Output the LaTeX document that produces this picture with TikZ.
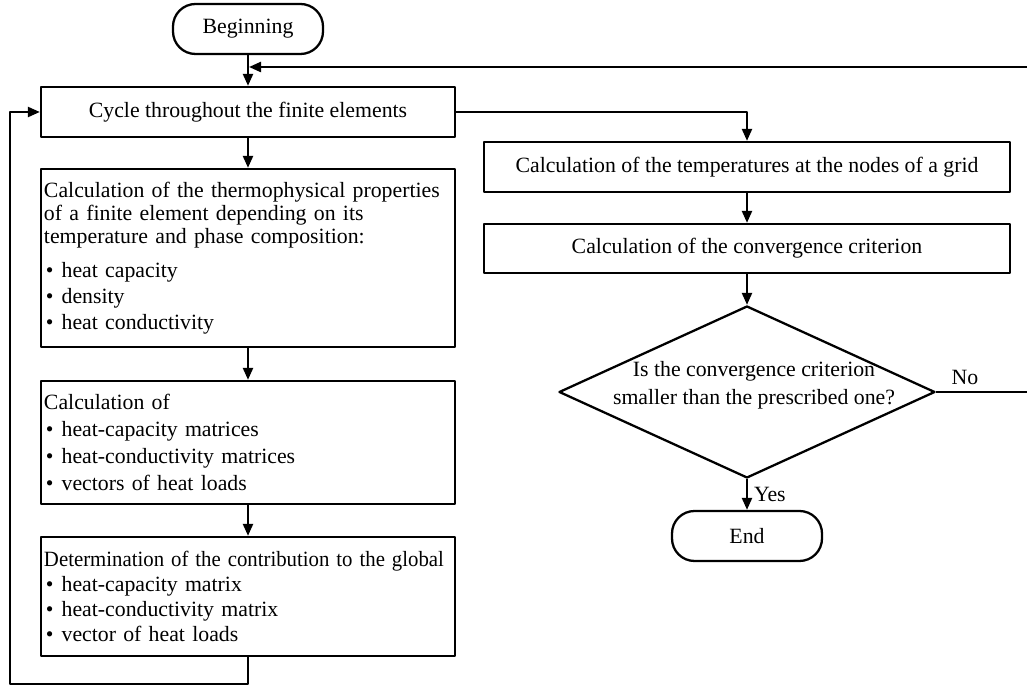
\documentclass[tikz,border=0pt]{standalone}
\usepackage{fontspec}
\usepackage{graphicx}
\setmainfont{Liberation Serif}
\usetikzlibrary{shapes.geometric,arrows.meta}
\newcommand{\bul}{\hspace*{0.4mm}\textbullet\hspace{1.6mm}}
\begin{document}
\begin{tikzpicture}[x=0.2mm,y=-0.2mm,line width=1.3pt,line join=round,>={Triangle[length=2.4mm,width=2mm]},
	font=\fontsize{12.4}{13.2}\selectfont,
	box/.style={draw,rectangle,inner sep=0.6mm},
	lbox/.style={box,align=left,text width=81.6mm,minimum width=82.8mm},
	term/.style={draw,rectangle,rounded corners=4.5mm,minimum width=30mm,minimum height=10mm},
	decision/.style={draw,diamond,minimum width=75.2mm,minimum height=34.4mm,inner sep=0pt}]
	\useasboundingbox (0,0) rectangle (1027,687);
	% left column
	\node[term] (begin) at (248,29) {Beginning};
	\node[box,minimum width=82.8mm,minimum height=10mm] (cycle) at (248,112) {Cycle throughout the finite elements};
	\node[lbox,minimum height=35.6mm] (thermo) at (248,258) {Calculation of the thermophysical properties\\
		of a finite element depending on its\\
		temperature and phase composition:\\[6pt]
		\bul heat capacity\\[1.5pt]
		\bul density\\[1.5pt]
		\bul heat conductivity};
	\node[lbox,minimum height=24.6mm] (calc) at (248,442.5) {Calculation of\\[2pt]
		\bul heat-capacity matrices\\[2pt]
		\bul heat-conductivity matrices\\[2pt]
		\bul vectors of heat loads};
	\node[lbox,minimum height=23.8mm] (det) at (248,596.5) {\scalebox{0.955}[1]{Determination of the contribution to the global}\\[1pt]
		\bul heat-capacity matrix\\[1pt]
		\bul heat-conductivity matrix\\[1pt]
		\bul vector of heat loads};
	% right column
	\node[box,minimum width=105.2mm,minimum height=10mm] (temp) at (747,167) {Calculation of the temperatures at the nodes of a grid};
	\node[box,minimum width=105.2mm,minimum height=9.8mm] (conv) at (747,248.5) {Calculation of the convergence criterion};
	\node[decision] (check) at (747,392) {};
	\node[align=center] (checktext) at (754,385) {Is the convergence criterion\\[3pt]
		smaller than the prescribed one?};
	\node[term] (end) at (747,536) {End};
	\coordinate (join) at (249,67);
	\coordinate (loop) at (10,112);
	\draw[->] (begin) -- (cycle);
	\draw[->] (cycle) -- (thermo);
	\draw[->] (thermo) -- (calc);
	\draw[->] (calc) -- (det);
	\draw[->] (det.south) -- ++(0,27) -| (loop) -- (cycle.west);
	\draw[->] (cycle.east) -| (temp.north);
	\draw[->] (temp) -- (conv);
	\draw[->] (conv) -- (check);
	\draw[->] (check.south) -- node[right] (yes) {Yes} (end.north);
	\draw[->] (check.east) -- node[above,pos=0.3] (no) {No} (1032,392) -- (1032,67) -- (join);
\end{tikzpicture}
\end{document}
